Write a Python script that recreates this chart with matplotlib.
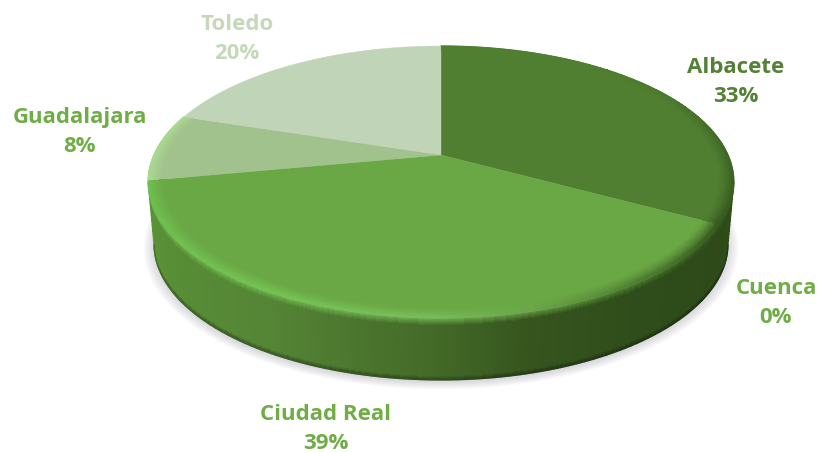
import numpy as np
import matplotlib
matplotlib.use("Agg")
import matplotlib.pyplot as plt
from matplotlib.collections import LineCollection
from matplotlib.colors import to_rgb
from matplotlib.patches import Polygon

# Chart data
provinces = ["Albacete", "Cuenca", "Ciudad Real", "Guadalajara", "Toledo"]
shares = [33, 0, 39, 8, 20]
face_colors = ["#507F31", "#3F6425", "#6AA845", "#A1C18D", "#C0D4B8"]
label_colors = ["#538135", "#70AD47", "#70AD47", "#70AD47", "#C5D9B9"]
label_centres = [(736, 82), (776, 303), (326, 429), (80, 132), (237, 39)]

# Pie geometry, in pixels of the 820x453 canvas
CX, CY = 441.0, 155.0
SPAN_X, SPAN_Y, TILT = 287.0, 99.85, 0.1985
DEPTH = 62.0
BASE_SCALE = 0.98

# Side-wall and bevel tones, by clockwise angle from twelve o'clock
tone_angles = [35, 60, 100, 119, 145, 165, 182, 210, 255, 290]
wall_tones = ["#47752B", "#47752B", "#2F4E1A", "#2D4A18", "#2F4D1A", "#35541E", "#446B28", "#558536", "#5A9436", "#5A9436"]
bevel_tones = ["#507F31", "#4A782D", "#3C6222", "#37591E", "#4D8030", "#6BA548", "#78BD5A", "#74C153", "#6CBE4E", "#8CC870"]


def project(theta, r=1.0, drop=0.0):
    """Map polar pie coordinates (degrees clockwise from the top) to the canvas."""
    t = np.radians(theta)
    u, v = r * np.sin(t), r * np.cos(t)
    w = 1 + TILT * v
    k = 1 + (BASE_SCALE - 1) * drop / DEPTH
    return CX + k * SPAN_X * u / w, (-SPAN_Y * v + CY) / w + drop


def tone(table, theta):
    rgb = np.array([to_rgb(c) for c in table])
    return np.stack([np.interp(theta, tone_angles, rgb[:, i]) for i in range(3)], axis=-1)


def mesh(ax, xs, ys, rgb, z):
    ax.pcolormesh(xs, ys, rgb, shading="flat", antialiased=False, edgecolor="none", linewidth=0, zorder=z)


def stroke(ax, xs, ys, rgb, z, lw=0.9):
    pts = np.c_[xs, ys]
    segs = np.stack([pts[:-1], pts[1:]], axis=1)
    ax.add_collection(LineCollection(segs, colors=rgb, linewidths=lw, capstyle="round", zorder=z))


fig = plt.figure(figsize=(8.2, 4.53), dpi=100, facecolor="white")
ax = fig.add_axes([0, 0, 1, 1])
ax.set_xlim(0, 820)
ax.set_ylim(453, 0)
ax.axis("off")

# Soft cast shadow below the disc
ring = np.linspace(0, 360, 361)
for i in range(12):
    grow = 1.035 - i * 0.005
    sx, sy = project(ring, grow, DEPTH + 2)
    ax.add_patch(Polygon(np.c_[sx, sy], closed=True, fc="#8A8A9C", ec="none", alpha=0.045, zorder=1))

ends = np.cumsum(shares) * 360.0 / sum(shares)
starts = np.r_[0.0, ends[:-1]]

# Side wall of the disc, limited to the angles where it faces the viewer
tangent = np.degrees(np.arccos(-TILT))
th = np.linspace(tangent, 360 - tangent, 421)
drops = np.linspace(0, DEPTH, 63)
T, D = np.meshgrid(th, drops)
X, Y = project(T, 1.0, D)
tm = 0.5 * (T[:-1, :-1] + T[1:, 1:])
dm = 0.5 * (D[:-1, :-1] + D[1:, 1:]) / DEPTH
wall = tone(wall_tones, tm)
bev = tone(bevel_tones, tm)
lift = np.clip(1 - dm / 0.12, 0, 1)[..., None]
wall = wall * (1 - lift * 0.85) + bev * lift * 0.85
wall = wall * (1 - 0.35 * np.clip((dm - 0.93) / 0.07, 0, 1))[..., None]
mesh(ax, X, Y, wall, 2)

# Smooth the silhouette of the wall: lower arc and the two vertical sides
lx, ly = project(th, 1.0, DEPTH)
stroke(ax, lx, ly, tone(wall_tones, th[:-1]) * 0.75, 2.5)
for side in (th[0], th[-1]):
    sx, sy = project(np.full(20, side), 1.0, np.linspace(0, DEPTH, 20))
    stroke(ax, sx, sy, tone(wall_tones, np.full(19, side)), 2.5)

# Top face: each slice is a flat fill plus a bevelled band on its outer edge
for name, a, b, col, share in zip(provinces, starts, ends, face_colors, shares):
    if share == 0:
        continue
    arc = np.linspace(a, b, 200)
    ex, ey = project(arc, 1.0)
    ax.add_patch(Polygon(np.r_[[[CX, CY]], np.c_[ex, ey]], closed=True, fc=col, ec=col, lw=0.3, zorder=3))

    if name == "Toledo":
        continue
    T, R = np.meshgrid(arc, np.linspace(0.945, 1.0, 15))
    X, Y = project(T, R)
    tm = 0.5 * (T[:-1, :-1] + T[1:, 1:])
    rm = 0.5 * (R[:-1, :-1] + R[1:, 1:])
    flat = np.array(to_rgb(col))
    if name == "Guadalajara":
        edge = np.full(tm.shape + (3,), np.array(to_rgb("#A9D890")))
    else:
        edge = tone(bevel_tones, tm)
    s = np.clip((rm - 0.945) / 0.05, 0, 1)[..., None] ** 1.4
    mesh(ax, X, Y, flat * (1 - s) + edge * s, 4)
    stroke(ax, ex, ey, edge[-1], 4.5)

# Province name and percentage above one another
for name, share, col, (lx, ly) in zip(provinces, shares, label_colors, label_centres):
    ax.text(lx, ly, f"{name}\n{share}%", color=col, ha="center", va="center",
            family="Open Sans", weight="bold", fontsize=16, linespacing=1.5, zorder=6)

fig.savefig("out.png", dpi=100, facecolor="white")
